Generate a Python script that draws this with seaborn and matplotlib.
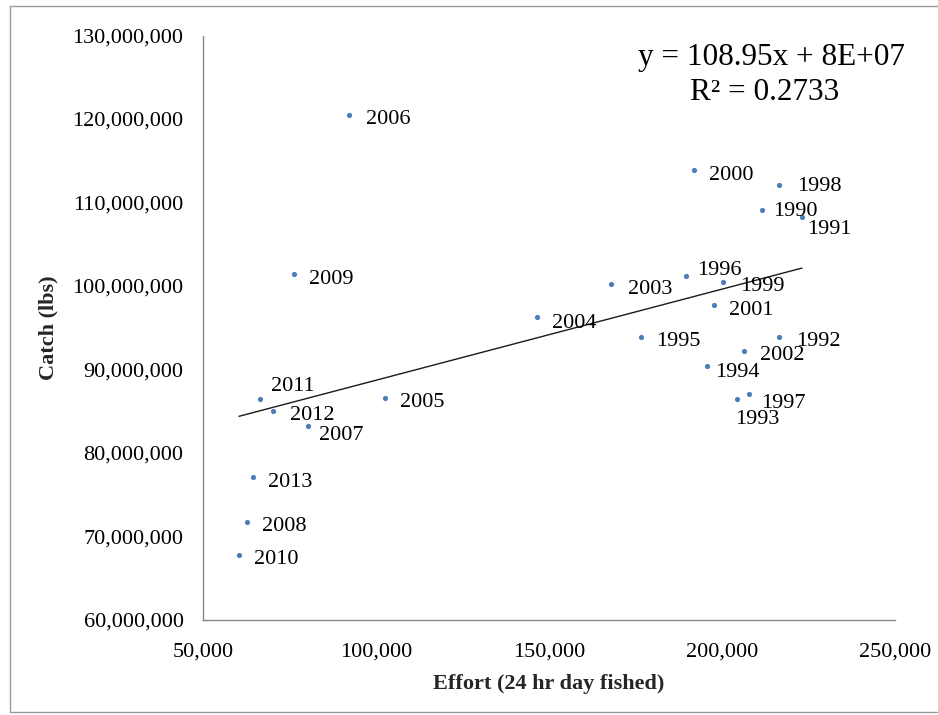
import numpy as np
import pandas as pd
import matplotlib
matplotlib.use("Agg")
import matplotlib.pyplot as plt
import seaborn as sns
from matplotlib.ticker import FuncFormatter, MultipleLocator
from matplotlib.lines import Line2D

# Annual effort (24 hr days fished) and catch (lbs)
years = [1990, 1991, 1992, 1993, 1994, 1995, 1996, 1997, 1998, 1999, 2000, 2001,
         2002, 2003, 2004, 2005, 2006, 2007, 2008, 2009, 2010, 2011, 2012, 2013]
effort = [211500, 223100, 216500, 204300, 195700, 176600, 189600, 207800, 216500, 200300,
          191900, 197700, 206300, 167900, 146500, 102600, 92200, 80300, 62700, 76300,
          60400, 66500, 70200, 64500]
catch = [109.10e6, 108.26e6, 93.89e6, 86.47e6, 90.42e6, 93.89e6, 101.20e6, 87.07e6,
         112.10e6, 100.48e6, 113.89e6, 97.72e6, 92.22e6, 100.24e6, 96.29e6, 86.59e6,
         120.48e6, 83.23e6, 71.74e6, 101.44e6, 67.78e6, 86.47e6, 85.03e6, 77.13e6]

equation_text = "y = 108.95x + 8E+07"
r2_text = "R\u00b2 = 0.2733"
x_title = "Effort (24 hr day fished)"
y_title = "Catch (lbs)"

# Label offsets (points) from each marker: (dx, dy)
label_offsets = {
    1990: (8, -1), 1991: (4, -9), 1992: (12, -3), 1993: (-1, -15), 1994: (6, -5),
    1995: (11, -3), 1996: (8, 4), 1997: (9, -7), 1998: (13, -1), 1999: (12, -3),
    2000: (11, -4), 2001: (11, -4), 2002: (12, -3), 2003: (12, -4), 2004: (11, -5),
    2005: (11, -3), 2006: (12, -3), 2007: (8, -7), 2008: (11, -3), 2009: (11, -4),
    2010: (11, -3), 2011: (8, 9), 2012: (12, -3), 2013: (11, -4),
}

df = pd.DataFrame({"year": years, "effort": effort, "catch": catch})

sns.set_theme(style="white")
plt.rcParams["font.family"] = ["Liberation Serif", "DejaVu Serif"]

fig = plt.figure(figsize=(9.38, 7.15), dpi=100)
ax = fig.add_axes([0.2164, 0.1329, 0.7378, 0.8174])

sns.regplot(data=df, x="effort", y="catch", scatter=False, ci=None, truncate=True,
            ax=ax, line_kws={"color": "#1a1a1a", "linewidth": 1.0})
sns.scatterplot(data=df, x="effort", y="catch", ax=ax, color="#4A7EBB",
                s=14, linewidth=0, zorder=3)

for yr, xv, yv in zip(years, effort, catch):
    dx, dy = label_offsets[yr]
    ax.annotate(str(yr), (xv, yv), xytext=(dx, dy), textcoords="offset points",
                ha="left", va="center", fontsize=16, color="black")

ax.set_xlim(50000, 250000)
ax.set_ylim(60e6, 130e6)
ax.xaxis.set_major_locator(MultipleLocator(50000))
ax.yaxis.set_major_locator(MultipleLocator(10e6))
ax.xaxis.set_major_formatter(FuncFormatter(lambda v, p: f"{v:,.0f}"))
ax.yaxis.set_major_formatter(FuncFormatter(lambda v, p: f"{v:,.0f}"))

for side in ["top", "right"]:
    ax.spines[side].set_visible(False)
for side in ["left", "bottom"]:
    ax.spines[side].set_color("#868686")
    ax.spines[side].set_linewidth(1.0)
ax.tick_params(axis="both", which="major", direction="out", length=6, width=1,
               color="#868686", labelsize=16, labelcolor="black")
ax.tick_params(axis="y", pad=8)
ax.tick_params(axis="x", pad=10)

ax.set_xlabel(x_title, fontsize=16, fontweight="bold", labelpad=9)
ax.set_ylabel(y_title, fontsize=16, fontweight="bold", labelpad=10)

ax.text(0.821, 0.962, equation_text, transform=ax.transAxes, ha="center", va="center",
        fontsize=22.5, color="black")
ax.text(0.812, 0.903, r2_text, transform=ax.transAxes, ha="center", va="center",
        fontsize=22.5, color="black")

# Chart-area border (left, top, bottom edges)
W, H = 938, 715
bx0, by_top, by_bot = 9.5 / W, 1 - 5.5 / H, 1 - 711.5 / H
for xs, ys in [([bx0, bx0], [by_bot, by_top]), ([bx0, 1.0], [by_top, by_top]),
               ([bx0, 1.0], [by_bot, by_bot])]:
    fig.add_artist(Line2D(xs, ys, transform=fig.transFigure, color="#9a9a9a", linewidth=1.0))

fig.savefig("out.png", dpi=100)
